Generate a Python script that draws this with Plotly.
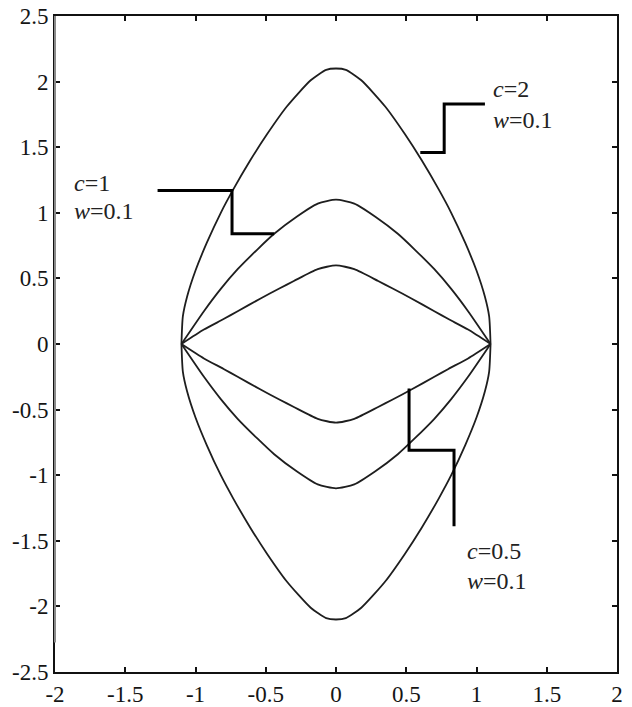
import plotly.graph_objects as go

# upper / lower branches of the three closed curves
x_c2 = [-1.10, -1.09, -1.06, -1.00, -0.92, -0.82, -0.73, -0.61, -0.49, -0.35, -0.18, -0.07, 0.0,
        0.07, 0.18, 0.35, 0.49, 0.61, 0.73, 0.82, 0.92, 1.00, 1.06, 1.09, 1.10]
y_c2_up = [0.0, 0.21, 0.36, 0.56, 0.77, 1.00, 1.18, 1.40, 1.60, 1.81, 2.01, 2.09, 2.10,
           2.09, 2.01, 1.81, 1.60, 1.40, 1.18, 1.00, 0.77, 0.56, 0.36, 0.21, 0.0]
y_c2_dn = [0.0, -0.21, -0.36, -0.56, -0.77, -1.00, -1.18, -1.40, -1.60, -1.81, -2.01, -2.09, -2.10,
           -2.09, -2.01, -1.81, -1.60, -1.40, -1.18, -1.00, -0.77, -0.56, -0.36, -0.21, 0.0]

x_c1 = [-1.10, -0.94, -0.82, -0.70, -0.56, -0.44, -0.28, -0.13, 0.0,
        0.13, 0.28, 0.44, 0.56, 0.70, 0.82, 0.94, 1.10]
y_c1_up = [0.0, 0.25, 0.42, 0.57, 0.72, 0.84, 0.97, 1.07, 1.10,
           1.07, 0.97, 0.84, 0.72, 0.57, 0.42, 0.25, 0.0]
y_c1_dn = [0.0, -0.25, -0.42, -0.57, -0.72, -0.84, -0.97, -1.07, -1.10,
           -1.07, -0.97, -0.84, -0.72, -0.57, -0.42, -0.25, 0.0]

x_c05 = [-1.10, -0.94, -0.80, -0.70, -0.54, -0.40, -0.30, -0.13, 0.0,
         0.13, 0.30, 0.40, 0.54, 0.70, 0.80, 0.94, 1.10]
y_c05_up = [0.0, 0.11, 0.19, 0.25, 0.345, 0.425, 0.48, 0.57, 0.60,
            0.57, 0.48, 0.425, 0.345, 0.25, 0.19, 0.11, 0.0]
y_c05_dn = [0.0, -0.11, -0.19, -0.25, -0.345, -0.425, -0.48, -0.57, -0.60,
            -0.57, -0.48, -0.425, -0.345, -0.25, -0.19, -0.11, 0.0]

# leader lines for the labels
lead_c2_x = [0.60, 0.77, 0.77, 1.06]
lead_c2_y = [1.46, 1.46, 1.83, 1.83]
lead_c1_x = [-1.27, -0.74, -0.74, -0.44]
lead_c1_y = [1.17, 1.17, 0.84, 0.84]
lead_c05_x = [0.52, 0.52, 0.84, 0.84]
lead_c05_y = [-0.34, -0.81, -0.81, -1.39]

labels = ["<i>c</i>=2", "<i>w</i>=0.1", "<i>c</i>=1", "<i>w</i>=0.1", "<i>c</i>=0.5", "<i>w</i>=0.1"]
label_x = [1.10, 1.10, -1.88, -1.88, 0.92, 0.92]
label_y = [1.94, 1.71, 1.23, 1.01, -1.575, -1.805]

x_ticks = [-2, -1.5, -1, -0.5, 0, 0.5, 1, 1.5, 2]
x_ticktext = ["-2", "-1.5", "-1", "-0.5", "0", "0.5", "1", "1.5", "2"]
y_ticks = [-2.5, -2, -1.5, -1, -0.5, 0, 0.5, 1, 1.5, 2, 2.5]
y_ticktext = ["-2.5", "-2", "-1.5", "-1", "-0.5", "0", "0.5", "1", "1.5", "2", "2.5"]

SERIF = "Liberation Serif, Times New Roman, serif"

fig = go.Figure()

for xs, ys in [(x_c2, y_c2_up), (x_c2, y_c2_dn), (x_c1, y_c1_up), (x_c1, y_c1_dn),
               (x_c05, y_c05_up), (x_c05, y_c05_dn)]:
    fig.add_trace(go.Scatter(x=xs, y=ys, mode="lines",
                             line=dict(color="#1e1e1e", width=1.8, shape="spline", smoothing=0.6),
                             showlegend=False, hoverinfo="skip"))

for xs, ys in [(lead_c2_x, lead_c2_y), (lead_c1_x, lead_c1_y), (lead_c05_x, lead_c05_y)]:
    fig.add_trace(go.Scatter(x=xs, y=ys, mode="lines",
                             line=dict(color="#000000", width=3),
                             showlegend=False, hoverinfo="skip"))

for t, lx, ly in zip(labels, label_x, label_y):
    fig.add_annotation(x=lx, y=ly, text=t, showarrow=False, xanchor="left", yanchor="middle",
                       font=dict(family=SERIF, size=24, color="#222222"))

fig.update_xaxes(range=[-2, 2], tickvals=x_ticks, ticktext=x_ticktext, automargin=False,
                 showgrid=False, zeroline=False, showline=True, linecolor="#111111", linewidth=2,
                 mirror="ticks", ticks="inside", ticklen=5, tickwidth=2, tickcolor="#111111",
                 tickfont=dict(family=SERIF, size=23, color="#151515"))
fig.update_yaxes(range=[-2.5, 2.5], tickvals=y_ticks, ticktext=y_ticktext, automargin=False,
                 showgrid=False, zeroline=False, showline=True, linecolor="#111111", linewidth=2,
                 mirror="ticks", ticks="inside", ticklen=5, tickwidth=2, tickcolor="#111111",
                 tickfont=dict(family=SERIF, size=23, color="#151515"))

# left spine is faint grey in the scan except for the bottom stub
fig.add_shape(type="line", xref="paper", yref="paper", x0=0, x1=0, y0=0.045, y1=1,
              line=dict(color="#8a8a8a", width=2), layer="above")

fig.update_layout(width=632, height=707, plot_bgcolor="white", paper_bgcolor="white",
                  margin=dict(l=55, r=15, t=16, b=35))

# drop the page's default body margin so the figure sits flush in the window
fig.write_html("out.html", config={"displayModeBar": False},
               post_script="document.body.style.margin='0';document.body.style.overflow='hidden';")
